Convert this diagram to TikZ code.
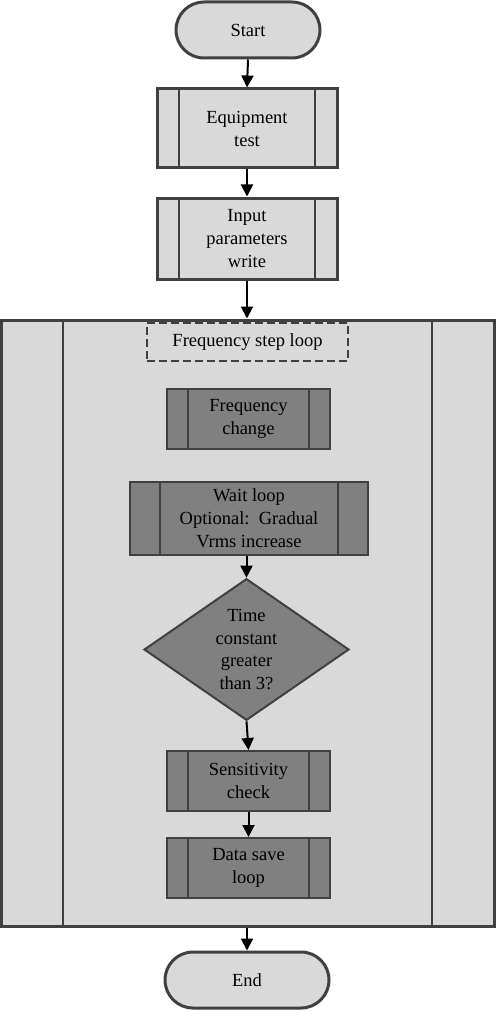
\documentclass[tikz,border=0pt]{standalone}
\usepackage{fontspec}
\setmainfont{Liberation Serif}
\newfontfamily\tnr{Liberation Serif}
\usetikzlibrary{shapes.misc,shapes.geometric,arrows.meta}
\definecolor{lightfill}{HTML}{D9D9D9}
\definecolor{darkfill}{HTML}{808080}
\definecolor{edge}{HTML}{404040}
\tikzset{
  basebox/.style={rectangle, draw=edge, inner sep=0pt, align=center,
    font=\tnr\fontsize{18.5}{23}\selectfont},
  predef/.style={basebox, path picture={
      \draw[edge, line width=2.4pt]
        ([xshift=#1]path picture bounding box.north west) --
        ([xshift=#1]path picture bounding box.south west);
      \draw[edge, line width=2.4pt]
        ([xshift=-#1]path picture bounding box.north east) --
        ([xshift=-#1]path picture bounding box.south east);}},
  lightpre/.style={predef=#1, fill=lightfill, line width=3pt},
  darkpre/.style={predef=#1, fill=darkfill, line width=2pt},
  terminal/.style={rounded rectangle, draw=edge, fill=lightfill, line width=3pt,
    inner sep=0pt, font=\tnr\fontsize{18.5}{23}\selectfont},
  decision/.style={diamond, draw=edge, fill=darkfill, line width=2pt, inner sep=0pt,
    align=center, font=\tnr\fontsize{18.5}{22.5}\selectfont},
  header/.style={basebox, dashed, dash pattern=on 8pt off 4pt, draw=edge, fill=lightfill, line width=2pt},
  flow/.style={-{Triangle[width=12pt,length=12pt]}, line width=2pt, black},
}
\begin{document}
\begin{tikzpicture}[x=1pt,y=-1pt]
\useasboundingbox (0,0) rectangle (496,1011);
\node[lightpre=62pt, minimum width=493pt, minimum height=606pt] (loop) at (247.5,623) {};
\node[terminal, minimum width=144pt, minimum height=56pt] (start) at (248,30) {Start};
\node[lightpre=22pt, minimum width=180pt, minimum height=79pt] (equip) at (247,128.5) {Equipment\\test};
\node[lightpre=22pt, minimum width=180pt, minimum height=81pt] (input) at (247,238.5) {Input\\parameters\\write};
\node[header, minimum width=201pt, minimum height=38pt] (fsl) at (247.5,342) {Frequency step loop};
\node[darkpre=21pt, minimum width=163pt, minimum height=60pt] (fchange) at (248.5,419) {Frequency\\change};
\node[darkpre=30pt, minimum width=238pt, minimum height=73pt] (wait) at (249,518.5) {Wait loop\\Optional:\ \ Gradual\\Vrms increase};
\node[decision, minimum width=205pt, minimum height=133pt] (dec) at (246.5,649.5) {Time\\constant\\greater\\than 3?};
\node[darkpre=21pt, minimum width=163pt, minimum height=60pt] (sens) at (248.5,781) {Sensitivity\\check};
\node[darkpre=21pt, minimum width=163pt, minimum height=60pt] (data) at (248.5,868) {Data save\\loop};
\node[terminal, minimum width=164pt, minimum height=56pt] (end) at (247,980) {End};
\draw[flow] (start.south) -- (equip.north);
\draw[flow] (equip.south) -- (input.north);
\draw[flow] (input.south) -- (input.south |- loop.north);
\draw[flow] (wait.south -| dec.north) -- (dec.north);
\draw[flow] (dec.south) -- (sens.north);
\draw[flow] (sens.south) -- (data.north);
\draw[flow] (loop.south -| end.north) -- (end.north);
\end{tikzpicture}
\end{document}
